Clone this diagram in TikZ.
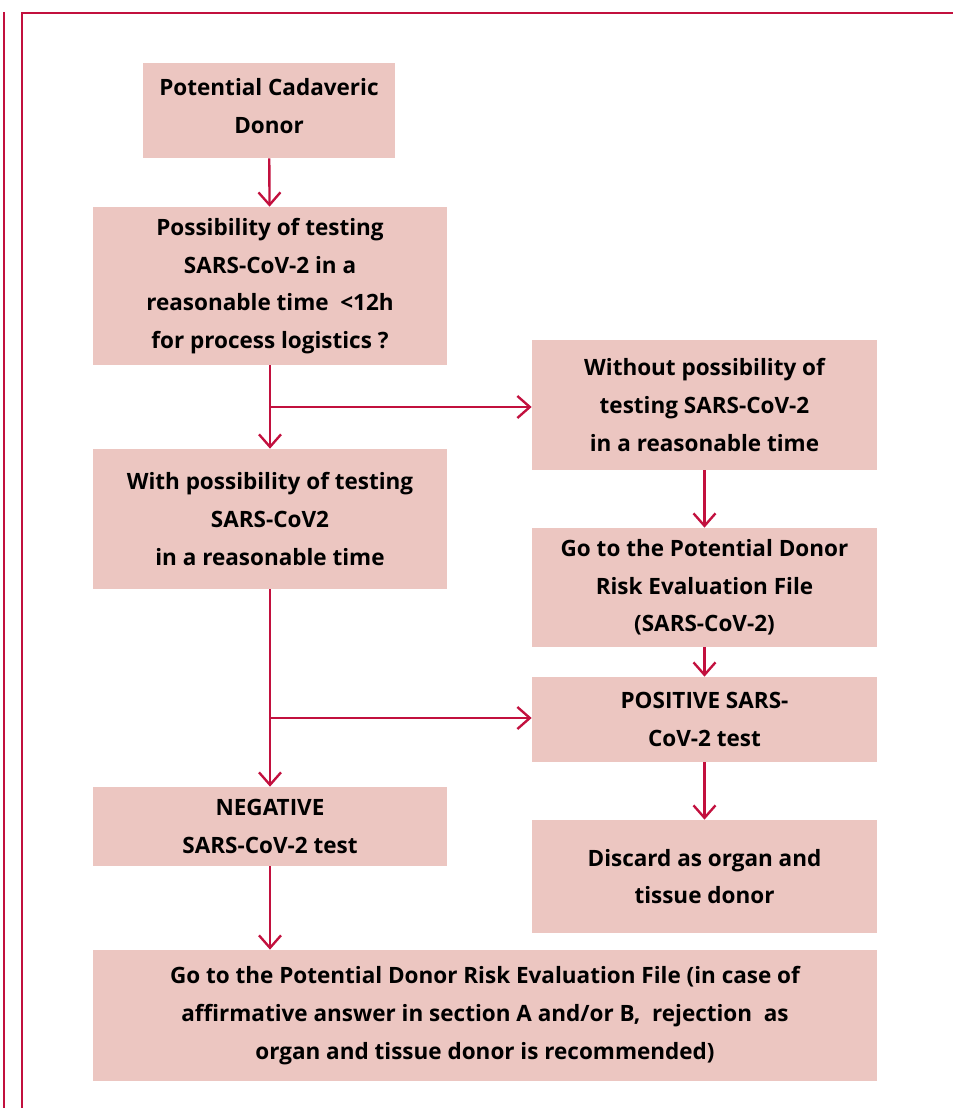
\documentclass[tikz,border=0pt]{standalone}
\usepackage{fontspec}
\setmainfont{Open Sans}
\usepackage{tikz}
\usetikzlibrary{arrows.meta, positioning}

\definecolor{framered}{HTML}{C2103E}
\definecolor{boxpink}{HTML}{ECC6C1}

\begin{document}
\begin{tikzpicture}[
  box/.style={fill=boxpink, align=center, inner sep=0pt,
              font=\fontsize{12.8pt}{21.4pt}\selectfont\bfseries},
  arr/.style={-{Straight Barb[length=0.25cm, width=0.44cm]}, line width=1.35pt, draw=framered},
  frame/.style={line width=1.6pt, draw=framered}
]
  \useasboundingbox (0,0) rectangle (19.06,-22.16);

  % page frame
  \draw[frame] (0.08,-0.24) -- (0.08,-22.16);
  \draw[frame] (19.06,-0.26) -- (0.44,-0.26) -- (0.44,-22.16);

  \node[box, minimum width=5.04cm, minimum height=1.9cm]  (donor)    at (5.38,-2.21)  {Potential Cadaveric\\Donor\\[-16pt]};
  \node[box, minimum width=7.08cm, minimum height=3.16cm] (poss)     at (5.40,-5.72)  {Possibility of testing\\SARS-CoV-2 in a\\reasonable time\ \ <12h\\for process logistics ?};
  \node[box, minimum width=6.9cm,  minimum height=2.6cm]  (without)  at (14.09,-8.10) {Without possibility of\\testing SARS-CoV-2\\in a reasonable time};
  \node[box, minimum width=7.08cm, minimum height=2.8cm]  (with)     at (5.40,-10.38) {With possibility of testing\\SARS-CoV2\\in a reasonable time};
  \node[box, minimum width=6.9cm,  minimum height=2.38cm] (riskfile) at (14.09,-11.75) {Go to the Potential Donor\\Risk Evaluation File\\(SARS-CoV-2)};
  \node[box, minimum width=6.9cm,  minimum height=1.7cm]  (positive) at (14.09,-14.39) {POSITIVE SARS-\\CoV-2 test};
  \node[box, minimum width=7.08cm, minimum height=1.58cm] (negative) at (5.40,-16.53) {NEGATIVE\\SARS-CoV-2 test};
  \node[box, minimum width=6.9cm,  minimum height=2.26cm] (discard)  at (14.09,-17.53) {Discard as organ and\\tissue donor};
  \node[box, minimum width=15.68cm, minimum height=2.62cm] (final)   at (9.70,-20.31) {Go to the Potential Donor Risk Evaluation File (in case of\\affirmative answer in section A and/or B,\ \ rejection\ \ as\\organ and tissue donor is recommended)};

  \coordinate (split1) at (5.38,-8.14);
  \coordinate (split2) at (5.38,-14.36);

  \draw[arr] (donor) -- (poss);
  \draw[arr] (poss) -- (with);
  \draw[arr] (split1) -- (split1 -| without.west);
  \draw[arr] (without) -- (riskfile);
  \draw[arr] (riskfile) -- (positive);
  \draw[arr] (positive) -- (discard);
  \draw[arr] (with) -- (negative);
  \draw[arr] (split2) -- (split2 -| positive.west);
  \draw[arr] (negative.south) -- (negative.south |- final.north);
\end{tikzpicture}
\end{document}
